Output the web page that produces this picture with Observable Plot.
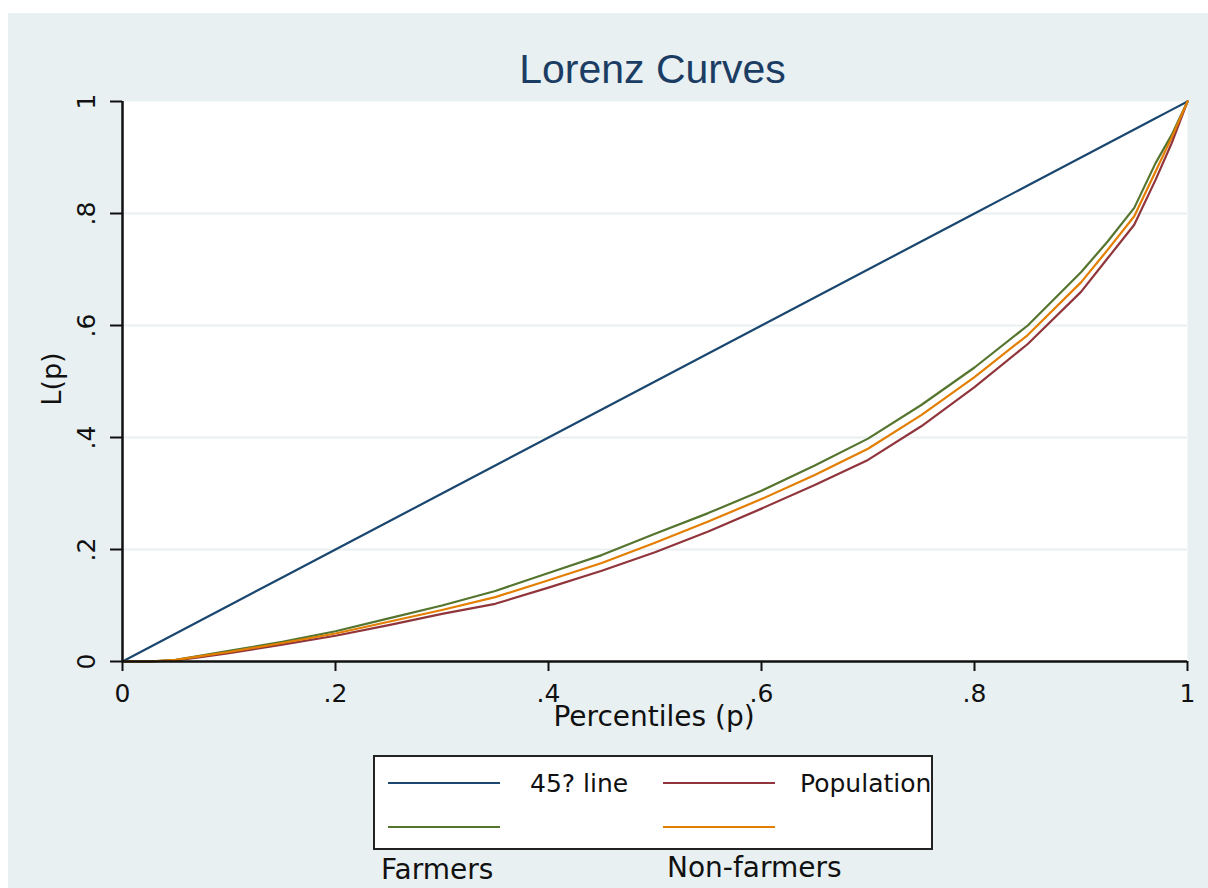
<!DOCTYPE html>
<html><head><meta charset="utf-8">
<script src="https://cdn.jsdelivr.net/npm/d3@7"></script>
<script src="https://cdn.jsdelivr.net/npm/@observablehq/plot@0.6"></script>
<style>
html,body{margin:0;padding:0;background:#fff;}
#wrap{position:absolute;left:8px;top:13px;width:1200px;height:875px;background:#e8f0f2;overflow:hidden;font-family:"DejaVu Sans",sans-serif;color:#111;}
#chart{position:absolute;left:0;top:0;}
#title{position:absolute;left:144.5px;width:1000px;top:35.6px;text-align:center;font-family:"Liberation Sans",Arial,sans-serif;font-size:41px;line-height:41px;color:#1c3d63;white-space:nowrap;}
#xtitle{position:absolute;left:346px;width:600px;top:690px;text-align:center;font-size:28px;line-height:28px;white-space:nowrap;}
#ytitle{position:absolute;left:-56px;width:200px;top:352px;text-align:center;font-size:27px;line-height:28px;transform:rotate(-90deg);transform-origin:50% 50%;white-space:nowrap;}
#legend{position:absolute;left:365px;top:742px;width:560px;height:95px;box-sizing:border-box;border:2px solid #222;background:#fff;overflow:hidden;}
.sw{position:absolute;height:2px;width:112px;}
.lt{position:absolute;font-size:25px;line-height:25px;white-space:nowrap;}
.below{position:absolute;font-size:28px;line-height:22px;white-space:nowrap;}
</style>
</head><body>
<div id="wrap">
  <div id="title"></div>
  <div id="chart"></div>
  <div id="xtitle"></div>
  <div id="ytitle"></div>
  <div id="legend"></div>
  <div id="below"></div>
</div>
<script>
// ---- data ----
const titleText = "Lorenz Curves";
const xTitle = "Percentiles (p)";
const yTitle = "L(p)";
const tickValues = [0, 0.2, 0.4, 0.6, 0.8, 1];
const tickLabels = ["0", ".2", ".4", ".6", ".8", "1"];
const seriesNames = ["45? line", "Population", "Farmers", "Non-farmers"];
const seriesColors = ["#1a476f", "#90353b", "#55752f", "#e37e00"];

const p          = [0, 0.025, 0.05, 0.075, 0.1, 0.15, 0.2, 0.25, 0.3, 0.35, 0.4, 0.45, 0.5, 0.55, 0.6, 0.65, 0.7, 0.75, 0.8, 0.85, 0.9, 0.925, 0.95, 0.97, 0.985, 1];
const line45     = [0, 0.025, 0.05, 0.075, 0.1, 0.15, 0.2, 0.25, 0.3, 0.35, 0.4, 0.45, 0.5, 0.55, 0.6, 0.65, 0.7, 0.75, 0.8, 0.85, 0.9, 0.925, 0.95, 0.97, 0.985, 1];
const population = [0, 0, 0.002, 0.008, 0.015, 0.03, 0.046, 0.065, 0.085, 0.103, 0.132, 0.162, 0.195, 0.232, 0.273, 0.315, 0.36, 0.42, 0.49, 0.567, 0.66, 0.72, 0.78, 0.86, 0.925, 1];
const farmers    = [0, 0, 0.003, 0.011, 0.019, 0.035, 0.054, 0.077, 0.1, 0.126, 0.158, 0.19, 0.228, 0.265, 0.305, 0.35, 0.398, 0.458, 0.525, 0.6, 0.695, 0.75, 0.81, 0.89, 0.94, 1];
const nonfarmers = [0, 0, 0.003, 0.01, 0.017, 0.033, 0.05, 0.071, 0.092, 0.115, 0.145, 0.176, 0.212, 0.25, 0.29, 0.333, 0.38, 0.44, 0.508, 0.583, 0.677, 0.735, 0.795, 0.875, 0.935, 1];

// ---- build table ----
const seriesValues = [line45, population, farmers, nonfarmers];
const rows = [];
seriesNames.forEach((name, i) => {
  p.forEach((pv, j) => rows.push({series: name, p: pv, L: seriesValues[i][j]}));
});
const fmt = d => tickLabels[tickValues.indexOf(d)] ?? String(d);

const chart = Plot.plot({
  width: 1200,
  height: 720,
  marginLeft: 114,
  marginRight: 21,
  marginTop: 88,
  marginBottom: 72,
  style: {background: "transparent", fontFamily: "DejaVu Sans, sans-serif", fontSize: "25px", color: "#111", overflow: "visible"},
  x: {domain: [0, 1]},
  y: {domain: [0, 1]},
  color: {domain: seriesNames, range: seriesColors},
  marks: [
    Plot.frame({fill: "white", stroke: null}),
    Plot.gridY(tickValues.filter(v => v > 0 && v < 1), {stroke: "#e8f0f2", strokeOpacity: 1, strokeWidth: 2}),
    Plot.line(rows, {x: "p", y: "L", z: "series", stroke: "series", strokeWidth: 2.2}),
    Plot.ruleX([0], {stroke: "#111", strokeWidth: 2.5}),
    Plot.ruleY([0], {stroke: "#111", strokeWidth: 2.5}),
    Plot.axisX(tickValues, {tickFormat: fmt, tickSize: 10, tickPadding: 13, strokeWidth: 2, fontSize: 25, label: null}),
    Plot.axisY(tickValues, {tickFormat: fmt, tickSize: 12, tickPadding: 16, tickRotate: -90, strokeWidth: 2, fontSize: 25, label: null})
  ]
});
document.getElementById("chart").append(chart);

document.getElementById("title").textContent = titleText;
document.getElementById("xtitle").textContent = xTitle;
document.getElementById("ytitle").textContent = yTitle;

// ---- legend (HTML) ----
const legend = document.getElementById("legend");
const swatchPos = [[13, 25], [288, 25], [13, 69], [288, 69]];
seriesNames.forEach((name, i) => {
  const s = document.createElement("div");
  s.className = "sw";
  s.style.left = swatchPos[i][0] + "px";
  s.style.top = swatchPos[i][1] + "px";
  s.style.background = seriesColors[i];
  legend.append(s);
});
const inKey = [[0, 155, 14], [1, 425, 14]];
inKey.forEach(([i, x, y]) => {
  const t = document.createElement("div");
  t.className = "lt";
  t.style.left = x + "px";
  t.style.top = y + "px";
  t.textContent = seriesNames[i];
  legend.append(t);
});
const below = document.getElementById("below");
const outKey = [[2, 373, 846], [3, 659, 844]];
outKey.forEach(([i, x, y]) => {
  const t = document.createElement("div");
  t.className = "below";
  t.style.left = x + "px";
  t.style.top = y + "px";
  t.textContent = seriesNames[i];
  below.append(t);
});
</script>
</body></html>
